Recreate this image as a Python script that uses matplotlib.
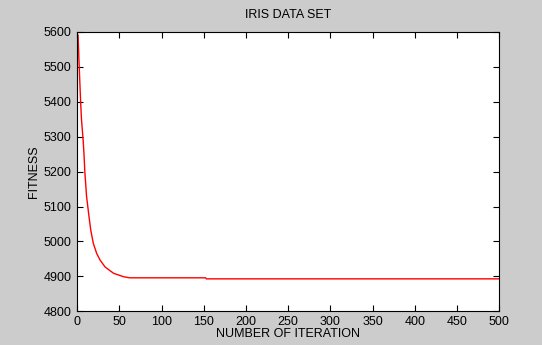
import matplotlib
matplotlib.use("Agg")
import matplotlib.pyplot as plt

# =========================
# Data
# =========================
iterations = [1, 2, 3, 4, 5, 6, 7, 8, 9, 10, 11, 12, 13, 14, 16, 19, 23, 27,
              33, 43, 55, 62, 152, 153, 500]
fitness = [5590, 5520, 5460, 5400, 5350, 5320, 5290, 5250, 5200, 5165, 5130,
           5110, 5090, 5070, 5033, 4995, 4966, 4947, 4927, 4909, 4899, 4896,
           4896, 4893, 4893]

x_ticks = list(range(0, 501, 50))
y_ticks = list(range(4800, 5601, 100))

# =========================
# Plot
# =========================
plt.rcParams['font.family'] = ['Liberation Sans', 'DejaVu Sans']

fig = plt.figure(figsize=(5.42, 3.45), dpi=100, facecolor='#cccccc')
ax = fig.add_axes([0.1425, 0.0975, 0.7785, 0.8105])
ax.set_facecolor('white')

ax.plot(iterations, fitness, color='red', linewidth=1.0)

ax.set_xlim(0, 500)
ax.set_ylim(4800, 5600)
ax.set_xticks(x_ticks)
ax.set_yticks(y_ticks)

ax.tick_params(direction='in', length=4, width=0.8, labelsize=9,
               top=True, right=True, pad=3, colors='black')
ax.tick_params(axis='y', pad=4)
for s in ax.spines.values():
    s.set_linewidth(0.8)

ax.set_title("IRIS DATA SET", fontsize=9, pad=10)
ax.set_xlabel("NUMBER OF ITERATION", fontsize=9, labelpad=0)
ax.set_ylabel("FITNESS", fontsize=9, labelpad=3)

fig.savefig("out.png", dpi=100, facecolor=fig.get_facecolor())
